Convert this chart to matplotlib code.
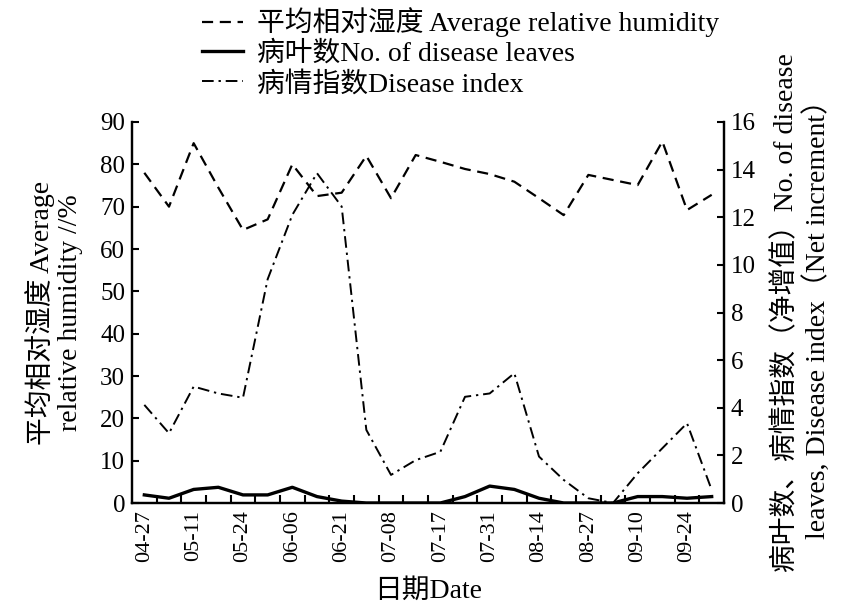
import matplotlib
matplotlib.use('Agg')
import matplotlib.pyplot as plt
from matplotlib.ticker import MultipleLocator, FixedLocator

plt.rcParams['font.family'] = ['Liberation Serif', 'Noto Sans CJK SC']
plt.rcParams['axes.unicode_minus'] = False

# sampling dates (every other one is labelled on the axis)
dates = ['04-27', '05-04', '05-11', '05-18', '05-24', '05-31', '06-06', '06-13',
         '06-21', '06-28', '07-08', '07-12', '07-17', '07-24', '07-31', '08-07',
         '08-14', '08-20', '08-27', '09-03', '09-10', '09-17', '09-24', '10-01']

# average relative humidity, % (left axis)
humidity = [78, 70, 85, 74.5, 64.5, 67, 80, 72.5, 73.3, 82, 72, 82.2,
            80.6, 78.9, 77.7, 75.9, 72, 68, 77.5, 76.3, 75.1, 85.4, 69.2, 72.8]

# number of diseased leaves, net increment (right axis)
leaves = [0.34, 0.2, 0.57, 0.66, 0.34, 0.34, 0.66, 0.27, 0.08, 0, 0, 0,
          0, 0.27, 0.71, 0.57, 0.2, 0, 0, 0, 0.27, 0.27, 0.2, 0.27]

# disease index, net increment (right axis)
dindex = [4.12, 2.93, 4.89, 4.6, 4.42, 9.4, 12.1, 13.85, 12.45, 3.07, 1.18, 1.8,
          2.15, 4.46, 4.6, 5.45, 1.95, 0.97, 0.2, 0, 1.25, 2.3, 3.35, 0.55]

x = list(range(len(dates)))

fig = plt.figure(figsize=(8.61, 6.10), dpi=100)
ax = fig.add_axes([0.1533, 0.1754, 0.6876, 0.6246])
ax2 = ax.twinx()

l1, = ax.plot(x, humidity, color='black', lw=1.6, linestyle=(0, (5, 3)))
l2, = ax2.plot(x, leaves, color='black', lw=2.4, linestyle='-')
l3, = ax2.plot(x, dindex, color='black', lw=1.4, linestyle=(0, (6, 2.5, 1.2, 2.5)))

ax.set_xlim(-0.5, len(dates) - 0.5)
ax.set_ylim(0, 90)
ax2.set_ylim(0, 16)
ax.yaxis.set_major_locator(MultipleLocator(10))
ax2.yaxis.set_major_locator(MultipleLocator(2))

ax.set_xticks(x[::2])
ax.set_xticklabels(dates[::2], rotation=90)
ax.xaxis.set_minor_locator(FixedLocator([i + 0.5 for i in range(len(dates) - 1)]))
ax.tick_params(axis='x', which='major', length=0, pad=5, labelsize=16)
ax.tick_params(axis='x', which='minor', direction='in', length=6, width=1.5)
ax.tick_params(axis='y', direction='in', length=5, width=1.5, labelsize=18, pad=5)
ax2.tick_params(axis='y', direction='in', length=5, width=1.5, labelsize=18, pad=5)

for a in (ax, ax2):
    a.spines['top'].set_visible(False)
    for s in ('left', 'right', 'bottom'):
        a.spines[s].set_linewidth(1.6)

ax.set_xlabel('日期Date', fontsize=20, labelpad=12)
ax.set_ylabel('平均相对湿度 Average\nrelative humidity //%', fontsize=20,
              labelpad=12, linespacing=1.2)
ax2.set_ylabel('病叶数、病情指数（净增值）No. of disease\nleaves, Disease index（Net increment）',
               fontsize=20, labelpad=12, linespacing=1.2)

fig.legend([l1, l2, l3],
           ['平均相对湿度 Average relative humidity', '病叶数No. of disease leaves',
            '病情指数Disease index'],
           loc='upper left', bbox_to_anchor=(0.215, 1.015), frameon=False,
           fontsize=20, handlelength=1.5, handletextpad=0.5, labelspacing=0.15,
           borderpad=0.1)

fig.savefig('out.png', dpi=100)
